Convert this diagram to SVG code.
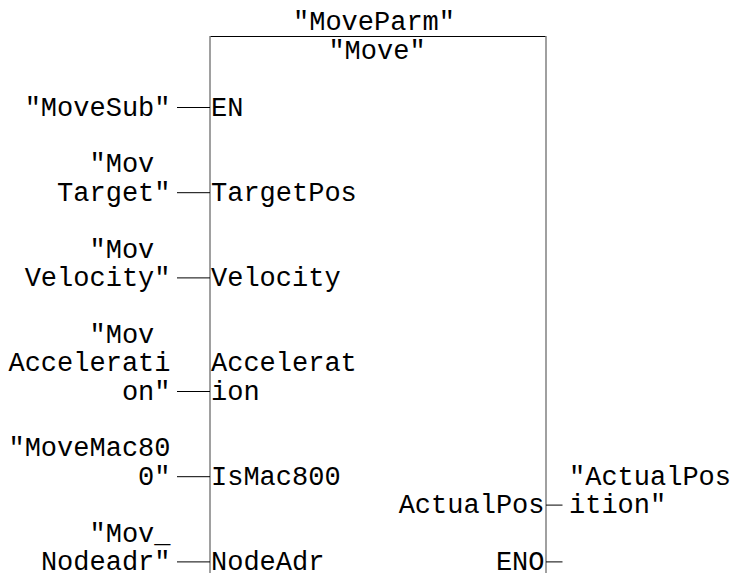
<svg xmlns="http://www.w3.org/2000/svg" width="731" height="573" viewBox="0 0 731 573">
<style>
text{font-family:"Liberation Mono","Courier New",monospace;font-size:27px;fill:#000}
.e{text-anchor:end}
.m{text-anchor:middle}
.edge{stroke:#808080;stroke-width:1.5;fill:none}
.top{stroke:#000;stroke-width:1;fill:none}
.wire{stroke:#000;stroke-width:1;fill:none}
</style>
<rect width="731" height="573" fill="#fff"/>
<g id="block-move">
<line class="top" x1="210" y1="36.5" x2="546" y2="36.5"/>
<line class="edge" x1="210" y1="36" x2="210" y2="573"/>
<line class="edge" x1="546" y1="36" x2="546" y2="573"/>
<text class="m" x="374" y="30.3">"MoveParm"</text>
<text class="m" x="377" y="58.7">"Move"</text>
<text x="211" y="115.5">EN</text>
<text x="211" y="200.7">TargetPos</text>
<text x="211" y="285.9">Velocity</text>
<text x="211" y="371.1">Accelerat</text>
<text x="211" y="399.5">ion</text>
<text x="211" y="484.7">IsMac800</text>
<text x="211" y="569.9">NodeAdr</text>
<text class="e" x="544.5" y="513.1">ActualPos</text>
<text class="e" x="544.5" y="569.9">ENO</text>
</g>
<g id="in-movesub"><text class="e" x="170.5" y="115.5">"MoveSub"</text></g>
<g id="in-target"><text class="e" x="154.3" y="172.3">"Mov</text><text class="e" x="170.5" y="200.7">Target"</text></g>
<g id="in-velocity"><text class="e" x="154.3" y="257.5">"Mov</text><text class="e" x="170.5" y="285.9">Velocity"</text></g>
<g id="in-acceleration"><text class="e" x="154.3" y="342.7">"Mov</text><text class="e" x="170.5" y="371.1">Accelerati</text><text class="e" x="170.5" y="399.5">on"</text></g>
<g id="in-ismac"><text class="e" x="170.5" y="456.3">"MoveMac80</text><text class="e" x="170.5" y="484.7">0"</text></g>
<g id="in-nodeadr"><text class="e" x="170.5" y="541.5">"Mov_</text><text class="e" x="170.5" y="569.9">Nodeadr"</text></g>
<g id="out-actualpos"><text x="569" y="484.7">"ActualPos</text><text x="569" y="513.1">ition"</text></g>
<g id="connectors">
<line class="wire" x1="177" y1="107.5" x2="210" y2="107.5"/>
<line class="wire" x1="177" y1="192.7" x2="210" y2="192.7"/>
<line class="wire" x1="177" y1="277.9" x2="210" y2="277.9"/>
<line class="wire" x1="177" y1="391.5" x2="210" y2="391.5"/>
<line class="wire" x1="177" y1="476.7" x2="210" y2="476.7"/>
<line class="wire" x1="177" y1="561.9" x2="210" y2="561.9"/>
<line class="wire" x1="546" y1="505.1" x2="562.5" y2="505.1"/>
<line class="wire" x1="546" y1="561.9" x2="562.5" y2="561.9"/>
</g>
</svg>
